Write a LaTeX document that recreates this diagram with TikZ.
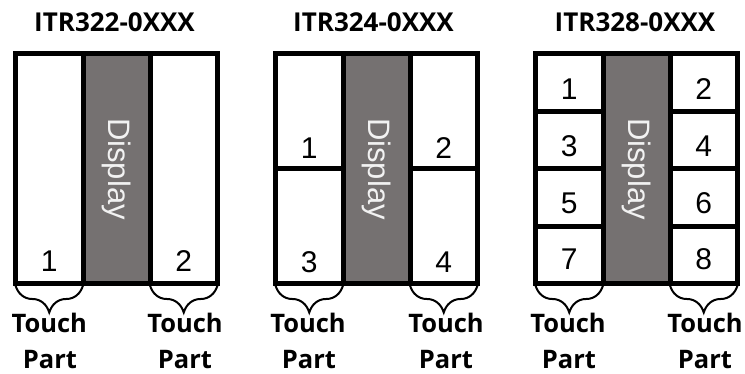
\documentclass[tikz,border=0pt]{standalone}
\usepackage{fontspec}
\setmainfont{Liberation Sans}
\newfontfamily\titlefont{Open Sans}
\usetikzlibrary{decorations.pathreplacing}
\definecolor{dispgray}{HTML}{757171}
\definecolor{disptext}{HTML}{F2F2F2}
\begin{document}
\begin{tikzpicture}[x=1pt,y=-1pt,
  cellbox/.style={draw=black, fill=white, line width=5pt, outer sep=0pt, inner sep=0pt, minimum width=67.5pt},
  dispbox/.style={draw=black, fill=dispgray, line width=5pt, outer sep=0pt, inner sep=0pt, minimum width=67pt, minimum height=230pt},
  disptxt/.style={text=disptext, font=\fontsize{31}{31}\selectfont, rotate=-90, inner sep=0pt},
  digit/.style={font=\fontsize{30}{30}\selectfont, anchor=base, inner sep=0pt},
  ttl/.style={font=\titlefont\bfseries\fontsize{26}{26}\selectfont, anchor=base, inner sep=0pt},
  lbl/.style={font=\titlefont\bfseries\fontsize{25.5}{25.5}\selectfont, anchor=base, inner sep=0pt},
  curly/.style={draw=black, line width=2pt, decorate, decoration={brace, mirror, amplitude=27pt, raise=1.5pt}},
  full/.style={minimum height=230pt},
  half/.style={minimum height=115pt},
  quarter/.style={minimum height=57.5pt}
]
\useasboundingbox (0,0) rectangle (745,374);

% ---------- Panel 1 ----------
\node[ttl] (t1) at (114.5,32) {ITR322-0XXX};
\node[dispbox] (p1d) at (116.5,169) {};
\node[cellbox, full] (p1l) at (49.25,169) {};
\node[cellbox, full] (p1r) at (183.75,169) {};
\node[disptxt] (p1dt) at (p1d.center) {Display};
\node[digit] (p1n1) at ([yshift=12pt]p1l.south) {1};
\node[digit] (p1n2) at ([yshift=12pt]p1r.south) {2};
\draw[curly] (p1l.south west) -- (p1l.south east);
\draw[curly] (p1r.south west) -- (p1r.south east);
\node[lbl] (p1tl) at (49.25,333) {Touch};
\node[lbl] (p1pl) at (50,368) {Part};
\node[lbl] (p1tr) at (185,333) {Touch};
\node[lbl] (p1pr) at (185,368) {Part};

% ---------- Panel 2 ----------
\node[ttl] (t2) at (373.5,32) {ITR324-0XXX};
\node[dispbox] (p2d) at (376.5,169) {};
\node[cellbox, half] (p2c1) at (309.25,111.5) {};
\node[cellbox, half] (p2c3) at (309.25,226.5) {};
\node[cellbox, half] (p2c2) at (443.75,111.5) {};
\node[cellbox, half] (p2c4) at (443.75,226.5) {};
\node[disptxt] (p2dt) at (p2d.center) {Display};
\node[digit] (p2n1) at ([yshift=10pt]p2c1.south) {1};
\node[digit] (p2n2) at ([yshift=10pt]p2c2.south) {2};
\node[digit] (p2n3) at ([yshift=11pt]p2c3.south) {3};
\node[digit] (p2n4) at ([yshift=11pt]p2c4.south) {4};
\draw[curly] (p2c3.south west) -- (p2c3.south east);
\draw[curly] (p2c4.south west) -- (p2c4.south east);
\node[lbl] (p2tl) at (308,333) {Touch};
\node[lbl] (p2pl) at (309,368) {Part};
\node[lbl] (p2tr) at (446,333) {Touch};
\node[lbl] (p2pr) at (446,368) {Part};

% ---------- Panel 3 ----------
\node[ttl] (t3) at (635,32) {ITR328-0XXX};
\node[dispbox] (p3d) at (636.5,169) {};
\node[cellbox, quarter] (p3c1) at (569.25,82.75) {};
\node[cellbox, quarter] (p3c3) at (569.25,140.25) {};
\node[cellbox, quarter] (p3c5) at (569.25,197.75) {};
\node[cellbox, quarter] (p3c7) at (569.25,255.25) {};
\node[cellbox, quarter] (p3c2) at (703.75,82.75) {};
\node[cellbox, quarter] (p3c4) at (703.75,140.25) {};
\node[cellbox, quarter] (p3c6) at (703.75,197.75) {};
\node[cellbox, quarter] (p3c8) at (703.75,255.25) {};
\node[disptxt] (p3dt) at (p3d.center) {Display};
\node[digit] (p3n1) at ([yshift=12pt]p3c1.south) {1};
\node[digit] (p3n2) at ([yshift=12pt]p3c2.south) {2};
\node[digit] (p3n3) at ([yshift=12pt]p3c3.south) {3};
\node[digit] (p3n4) at ([yshift=12pt]p3c4.south) {4};
\node[digit] (p3n5) at ([yshift=13pt]p3c5.south) {5};
\node[digit] (p3n6) at ([yshift=13pt]p3c6.south) {6};
\node[digit] (p3n7) at ([yshift=14pt]p3c7.south) {7};
\node[digit] (p3n8) at ([yshift=14pt]p3c8.south) {8};
\draw[curly] (p3c7.south west) -- (p3c7.south east);
\draw[curly] (p3c8.south west) -- (p3c8.south east);
\node[lbl] (p3tl) at (568,333) {Touch};
\node[lbl] (p3pl) at (569,368) {Part};
\node[lbl] (p3tr) at (705,333) {Touch};
\node[lbl] (p3pr) at (705,368) {Part};
\end{tikzpicture}
\end{document}
